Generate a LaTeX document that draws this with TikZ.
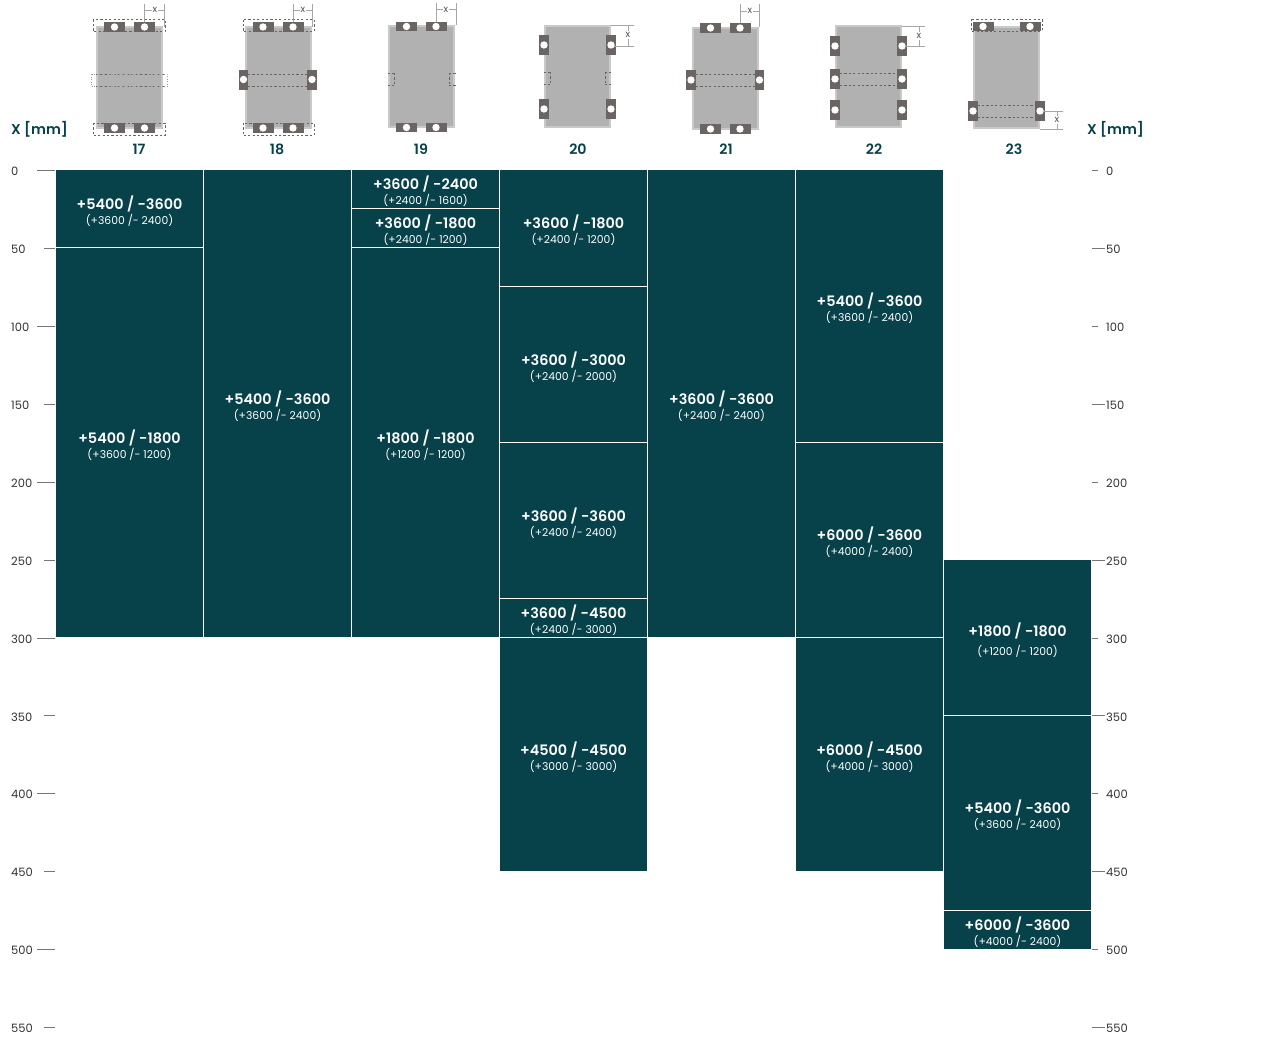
\documentclass[tikz,border=0pt]{standalone}
\usepackage{fontspec}
\setmainfont{Poppins}[BoldFont={Poppins SemiBold}]
\definecolor{blockc}{HTML}{07414A}
\definecolor{lugc}{HTML}{6A6462}
\definecolor{platea}{HTML}{C9C9C9}
\definecolor{plateb}{HTML}{B1B1B1}
\definecolor{tickc}{HTML}{777777}
\tikzset{
	loadblock/.style={fill=blockc,inner sep=0pt,minimum width=147pt},
	maintext/.style={text=white,font=\fontsize{14.4}{16}\selectfont\bfseries},
	subtext/.style={text=white,font=\fontsize{10.8}{13}\selectfont},
	axistext/.style={font=\fontsize{11.5}{13}\selectfont,text=black!80,inner sep=0pt,anchor=west},
	headtext/.style={text=blockc,font=\fontsize{14.2}{17}\selectfont\bfseries},
	tickline/.style={draw=tickc,line width=0.7pt},
	dashline/.style={draw=black!60,line width=0.8pt,dash pattern=on 2.2pt off 2.2pt},
	dimline/.style={draw=black!35,line width=0.6pt},
	dimtext/.style={text=black!70,font=\fontsize{9.5}{10}\selectfont,inner sep=1pt},
	hlug/.pic={\fill[lugc] (-10.5,-4.7) rectangle (10.5,4.7); \fill[white] (0,0) circle (3.7);},
	vlug/.pic={\fill[lugc] (-4.7,-10) rectangle (4.7,10); \fill[white] (0,0) circle (3.7);},
}
\newcommand{\plate}[2]{
	\fill[platea] (#1,#2) rectangle +(67,103);
	\fill[plateb] (#1+2,#2+2) rectangle +(63,99);
}
\begin{document}
\begin{tikzpicture}[x=1pt,y=-1pt]
	\useasboundingbox (0,0) rectangle (1280,1039);
	% load blocks
	\foreach \name/\xa/\ya/\yb/\pa/\pb/\pc/\pd in {
		a1/56/170/247/5400/3600/3600/2400,
		a2/56/248/637/5400/1800/3600/1200,
		b1/204/170/637/5400/3600/3600/2400,
		c1/352/170/208/3600/2400/2400/1600,
		c2/352/209/247/3600/1800/2400/1200,
		c3/352/248/637/1800/1800/1200/1200,
		d1/500/170/286/3600/1800/2400/1200,
		d2/500/287/442/3600/3000/2400/2000,
		d3/500/443/598/3600/3600/2400/2400,
		d4/500/599/637/3600/4500/2400/3000,
		d5/500/638/871/4500/4500/3000/3000,
		e1/648/170/637/3600/3600/2400/2400,
		f1/796/170/442/5400/3600/3600/2400,
		f2/796/443/637/6000/3600/4000/2400,
		f3/796/638/871/6000/4500/4000/3000,
		g2/944/716/910/5400/3600/3600/2400,
		g3/944/911/949/6000/3600/4000/2400}{
		\node[loadblock,minimum height=\yb pt-\ya pt] (\name) at ({\xa+73.5},{(\ya+\yb)/2}) {};
		\node[maintext,yshift=5pt] (\name m) at (\name) {+\pa\ / -\pb};
		\node[subtext,yshift=-11.8pt] (\name s) at (\name) {(+\pc\ /- \pd)};
	}
	\node[loadblock,minimum height=155pt] (g1) at (1017.5,637.5) {};
	\node[maintext,yshift=7pt] (g1m) at (g1) {+1800 / -1800};
	\node[subtext,yshift=-13.8pt] (g1s) at (g1) {(+1200 /- 1200)};
	% axis left and right
	\foreach \v in {0,100,...,500}{
		\coordinate (la\v) at (37,{170.5+1.558*\v});
		\coordinate (ra\v) at (1092,{170.5+1.558*\v});
		\coordinate (lb\v) at (55,{170.5+1.558*\v});
		\coordinate (rb\v) at (1098,{170.5+1.558*\v});
		\draw[tickline] (la\v) -- (lb\v);
		\draw[tickline] (ra\v) -- (rb\v);
		\node[axistext] (lt\v) at (11,{171.5+1.558*\v}) {\v};
		\node[axistext] (rt\v) at (1106,{171.5+1.558*\v}) {\v};
	}
	\foreach \v in {50,150,...,550}{
		\coordinate (la\v) at (44,{170.5+1.558*\v});
		\coordinate (ra\v) at (1092,{170.5+1.558*\v});
		\coordinate (lb\v) at (55,{170.5+1.558*\v});
		\coordinate (rb\v) at (1105,{170.5+1.558*\v});
		\draw[tickline] (la\v) -- (lb\v);
		\draw[tickline] (ra\v) -- (rb\v);
		\node[axistext] (lt\v) at (11,{171.5+1.558*\v}) {\v};
		\node[axistext] (rt\v) at (1106,{171.5+1.558*\v}) {\v};
	}
	\node[headtext] (xl) at (39.5,129.5) {X [mm]};
	\node[headtext] (xr) at (1115.5,129.5) {X [mm]};
	\foreach \nr/\xc in {17/139,18/277,19/421,20/578,21/726,22/874,23/1014}
		\node[headtext] (h\nr) at (\xc,149.5) {\nr};
	% 17
	\plate{96}{26}
	\foreach \xc in {114.5,144.5}{
		\pic at (\xc,27) {hlug};
		\pic at (\xc,128) {hlug};
	}
	\draw[dashline] (93,19.5) rectangle (165,31.5);
	\draw[dashline] (93,123) rectangle (165,135.5);
	\draw[dashline] (96,74) -- (164,74);
	\draw[dashline] (96,86) -- (164,86);
	\draw[draw=black!40,line width=0.5pt,dotted] (91,74) rectangle (167,86);
	\draw[dimline] (144.5,4) -- (144.5,22);
	\draw[dimline] (164,4) -- (164,27);
	\node[dimtext] (x17) at (155,10) {x};
	\draw[dimline] (144.5,10) -- (x17);
	\draw[dimline] (x17) -- (164,10);
	% 18
	\plate{245}{26}
	\foreach \xc in {263,293}{
		\pic at (\xc,27) {hlug};
		\pic at (\xc,128) {hlug};
	}
	\pic at (243.5,79.5) {vlug};
	\pic at (312,79.5) {vlug};
	\draw[dashline] (243,19.5) rectangle (314,31.5);
	\draw[dashline] (243,123) rectangle (314,135.5);
	\draw[dashline] (248,74) -- (308,74);
	\draw[dashline] (248,86) -- (308,86);
	\draw[dimline] (293,4) -- (293,22);
	\draw[dimline] (312,4) -- (312,27);
	\node[dimtext] (x18) at (303,10) {x};
	\draw[dimline] (293,10) -- (x18);
	\draw[dimline] (x18) -- (312,10);
	% 19
	\plate{388}{25}
	\foreach \xc in {406.5,436}{
		\pic at (\xc,26.5) {hlug};
		\pic at (\xc,127.5) {hlug};
	}
	\draw[dashline,line width=0.6pt] (388,73) -- (394,73) (388,85) -- (394,85) (394,73) -- (394,85);
	\draw[dashline,line width=0.6pt] (449,73) -- (456,73) (449,85) -- (456,85) (449,73) -- (449,85);
	\draw[dimline] (436.5,3) -- (436.5,22);
	\draw[dimline] (456,3) -- (456,25);
	\node[dimtext] (x19) at (446,9.5) {x};
	\draw[dimline] (436.5,9.5) -- (x19);
	\draw[dimline] (x19) -- (456,9.5);
	% 20
	\plate{544}{25}
	\foreach \yc in {45,109}{
		\pic at (544,\yc) {vlug};
		\pic at (611,\yc) {vlug};
	}
	\draw[dashline,line width=0.6pt] (544,72) -- (550,72) (544,84) -- (550,84) (550,72) -- (550,84);
	\draw[dashline,line width=0.6pt] (605,72) -- (611,72) (605,84) -- (611,84) (605,72) -- (605,84);
	\draw[dimline] (611,25) -- (634,25);
	\draw[dimline] (614,46) -- (634,46);
	\node[dimtext] (x20) at (628,35) {x};
	\draw[dimline] (628,25) -- (x20);
	\draw[dimline] (x20) -- (628,46);
	% 21
	\plate{692}{27}
	\foreach \xc in {710.5,740}{
		\pic at (\xc,28) {hlug};
		\pic at (\xc,129) {hlug};
	}
	\pic at (691,80) {vlug};
	\pic at (759.5,80) {vlug};
	\draw[dashline] (696,74.5) -- (755,74.5);
	\draw[dashline] (696,86.5) -- (755,86.5);
	\draw[dimline] (740.5,4) -- (740.5,23);
	\draw[dimline] (759.5,4) -- (759.5,27);
	\node[dimtext] (x21) at (750,11) {x};
	\draw[dimline] (740.5,11) -- (x21);
	\draw[dimline] (x21) -- (759.5,11);
	% 22
	\plate{835}{25}
	\foreach \yc in {46,79,110}{
		\pic at (835,\yc) {vlug};
		\pic at (902,\yc) {vlug};
	}
	\draw[dashline] (840,73) -- (898,73);
	\draw[dashline] (840,85) -- (898,85);
	\draw[dimline] (902,26) -- (925,26);
	\draw[dimline] (905,46) -- (925,46);
	\node[dimtext] (x22) at (919,36) {x};
	\draw[dimline] (919,26) -- (x22);
	\draw[dimline] (x22) -- (919,46);
	% 23
	\plate{973}{26}
	\foreach \xc in {983,1030}{
		\pic at (\xc,26.5) {hlug};
	}
	\pic at (973,111) {vlug};
	\pic at (1040,111) {vlug};
	\draw[dashline] (971,19) rectangle (1042,31);
	\draw[dashline] (977.5,105) -- (1036,105);
	\draw[dashline] (977.5,117) -- (1036,117);
	\draw[dimline] (1044,111) -- (1063,111);
	\draw[dimline] (1040,129) -- (1063,129);
	\node[dimtext] (x23) at (1057,120) {x};
	\draw[dimline] (1057,111) -- (x23);
	\draw[dimline] (x23) -- (1057,129);
\end{tikzpicture}
\end{document}
